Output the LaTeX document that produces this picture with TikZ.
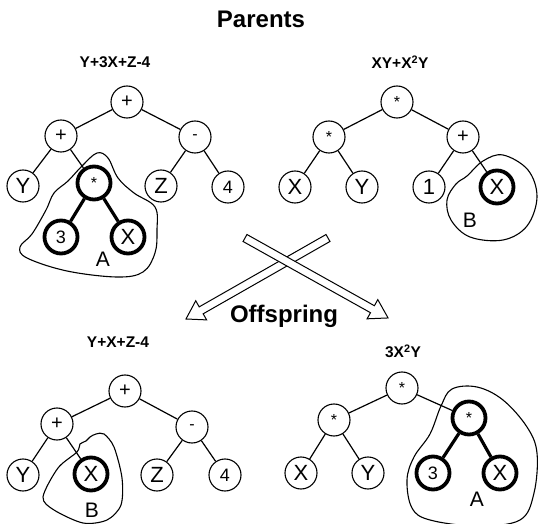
\documentclass[tikz,border=0pt]{standalone}
\usepackage{fontspec}
\setmainfont{Liberation Sans}
\begin{document}
\begin{tikzpicture}[x=1pt,y=-1pt,
  tn/.style={circle,draw,line width=1.1pt,minimum size=32pt,inner sep=0pt,font=\fontsize{22}{22}\selectfont},
  tk/.style={tn,line width=3.8pt,minimum size=33pt},
  op/.style={font=\fontsize{16}{16}\selectfont},
  pl/.style={font=\fontsize{20}{20}\selectfont},
  dg/.style={font=\fontsize{18}{18}\selectfont},
  ed/.style={line width=1.2pt},
  ek/.style={line width=3.2pt},
  blob/.style={line width=1.1pt},
  ttl/.style={font=\bfseries\fontsize{15.5}{15.5}\selectfont},
  big/.style={font=\bfseries\fontsize{24}{24}\selectfont},
  lab/.style={font=\fontsize{21}{21}\selectfont},
  harrow/.style={draw,fill=white,line width=1pt,line join=miter}]
\useasboundingbox (0,0) rectangle (539,524);

\node[big] (parents) at (261,19) {Parents};
\node[big] (offspring) at (284,316) {Offspring};

% top-left tree
\node[ttl] (t1) at (115,62) {Y+3X+Z-4};
\node[tn,pl] (a0) at (127,102) {+};
\node[tn,pl] (a1) at (61,136) {+};
\node[tn,op] (a2) at (195,137) {-};
\node[tn] (a3) at (23,186) {Y};
\node[tk,op] (a4) at (94,183) {*};
\node[tn] (a5) at (161,186) {Z};
\node[tn,dg] (a6) at (228,187) {4};
\node[tk,dg] (a7) at (61,237) {3};
\node[tk] (a8) at (128,237) {X};
\draw[ed] (a0)--(a1) (a0)--(a2) (a1)--(a3) (a1)--(a4) (a2)--(a5) (a2)--(a6);
\draw[ek] (a4)--(a7) (a4)--(a8);
\draw[blob] plot[smooth cycle,tension=0.6] coordinates {(97,153) (108,158) (118,178) (134,193) (155,207) (157,230) (155,253) (143,272) (117,277) (67,271) (27,258) (20,247) (32,234) (46,210) (54,193) (68,181) (82,166)};
\node[lab] (la) at (103,259) {A};

% top-right tree
\node[ttl] (t2) at (400,62) {XY+X\textsuperscript{2}Y};
\node[tn,op] (b0) at (397,102) {*};
\node[tn,op] (b1) at (329,137) {*};
\node[tn,pl] (b2) at (463,137) {+};
\node[tn] (b3) at (295,187) {X};
\node[tn] (b4) at (362,187) {Y};
\node[tn] (b5) at (429,187) {1};
\node[tk] (b6) at (497,187) {X};
\draw[ed] (b0)--(b1) (b0)--(b2) (b1)--(b3) (b1)--(b4) (b2)--(b5) (b2)--(b6);
\draw[blob] plot[smooth cycle,tension=0.6] coordinates {(467,176) (483,161) (503,155) (528,170) (537,197) (527,226) (503,240) (470,237) (451,220) (447,200) (456,184)};
\node[lab] (lb) at (470,220) {B};

% arrows
\begin{scope}[shift={(328,238)},rotate=-150.3]
\path[harrow] (0,-4) -- (146,-4) -- (146,-11) -- (163.5,0) -- (146,11) -- (146,4) -- (0,4) -- cycle;
\end{scope}
\begin{scope}[shift={(245,238)},rotate=-29.2]
\path[harrow] (0,-4) -- (146,-4) -- (146,-11) -- (163.9,0) -- (146,11) -- (146,4) -- (0,4) -- cycle;
\end{scope}

% bottom-left tree
\node[ttl] (t3) at (118,342) {Y+X+Z-4};
\node[tn,pl] (c0) at (125,391) {+};
\node[tn,pl] (c1) at (57,424) {+};
\node[tn,op] (c2) at (192,427) {-};
\node[tn] (c3) at (23,475) {Y};
\node[tk] (c4) at (91,474) {X};
\node[tn] (c5) at (157,475) {Z};
\node[tn,dg] (c6) at (225,475) {4};
\draw[ed] (c0)--(c1) (c0)--(c2) (c1)--(c3) (c1)--(c4) (c2)--(c5) (c2)--(c6);
\draw[blob] plot[smooth cycle,tension=0.5] coordinates {(96,434) (104,434) (114,447) (122,478) (121,505) (107,520) (83,523) (54,510) (43,497) (58,468) (77,452) (80,444) (86,441) (90,437)};
\node[lab] (lb2) at (92,510) {B};

% bottom-right tree
\node[ttl] (t4) at (403,351) {3X\textsuperscript{2}Y};
\node[tn,op] (d0) at (402,388) {*};
\node[tn,op] (d1) at (334,420) {*};
\node[tk,op] (d2) at (469,418) {*};
\node[tn] (d3) at (301,473) {X};
\node[tn] (d4) at (368,473) {Y};
\node[tk,dg] (d5) at (433,473) {3};
\node[tk] (d6) at (500,473) {X};
\draw[ed] (d0)--(d1) (d0)--(d2) (d1)--(d3) (d1)--(d4);
\draw[ek] (d2)--(d5) (d2)--(d6);
\draw[blob] plot[smooth cycle,tension=0.6] coordinates {(452,389) (477,387) (503,400) (527,427) (537,453) (534,493) (520,520) (477,526) (430,520) (412,508) (407,480) (414,457) (430,434) (441,406)};
\node[lab] (la2) at (477,499) {A};
\end{tikzpicture}
\end{document}
